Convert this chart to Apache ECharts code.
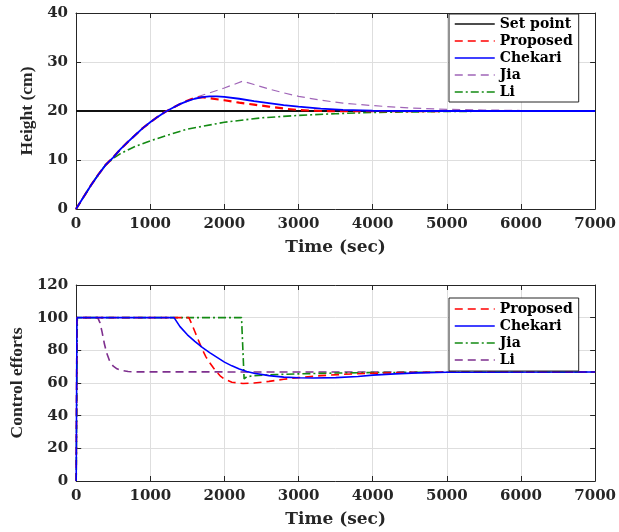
<!DOCTYPE html>
<html>
<head>
<meta charset="utf-8">
<script src="https://cdn.jsdelivr.net/npm/echarts@6/dist/echarts.min.js"></script>
<style>html,body{margin:0;padding:0;background:#fff}#c{width:619px;height:532px}</style>
</head>
<body>
<div id="c"></div>
<script>
// ---------- Data ----------
const xTicks = [0, 1000, 2000, 3000, 4000, 5000, 6000, 7000];

// Top panel: Height (cm)
const setPointT = [0, 7000];
const setPointV = [20, 20];

const propTopT = [0,100,200,300,400,500,600,700,800,900,1000,1100,1200,1300,1400,1500,1600,1700,1800,2000,2200,2400,2600,2800,3000,3300,3600,4000,5000,7000];
const propTopV = [0,2.4,4.8,7.0,9.0,10.5,12.2,13.7,15.1,16.5,17.7,18.8,19.8,20.6,21.4,22.1,22.7,22.8,22.6,22.2,21.7,21.3,20.9,20.5,20.2,20.0,19.95,19.95,20.0,20.0];

const chekTopT = [0,100,200,300,400,500,600,700,800,900,1000,1100,1200,1300,1400,1500,1600,1700,1800,1900,2000,2200,2400,2600,2800,3000,3300,3600,4000,4500,7000];
const chekTopV = [0,2.4,4.8,7.0,9.0,10.5,12.2,13.7,15.1,16.5,17.7,18.8,19.8,20.6,21.4,22.0,22.5,22.85,23.0,23.0,22.9,22.5,22.0,21.6,21.2,20.9,20.5,20.25,20.05,20.0,20.0];

const jiaTopT = [0,100,200,300,400,500,600,700,800,900,1000,1100,1200,1300,1400,1500,1600,1800,2000,2250,2400,2600,2800,3000,3300,3600,4000,4500,5000,5500,6000,7000];
const jiaTopV = [0,2.4,4.8,7.0,9.0,10.5,12.2,13.7,15.1,16.5,17.7,18.8,19.8,20.6,21.4,22.1,22.7,23.7,24.7,26.1,25.4,24.5,23.7,23.0,22.2,21.6,21.1,20.6,20.35,20.2,20.1,20.0];

const liTopT = [0,100,200,300,400,500,600,800,1000,1200,1500,2000,2500,3000,3500,4000,5000,6000,7000];
const liTopV = [0,2.4,4.8,7.0,9.0,10.3,11.3,12.8,13.9,14.9,16.3,17.7,18.6,19.1,19.45,19.7,19.9,20.0,20.0];

// Bottom panel: Control efforts
const propBotT = [0,10,1520,1560,1600,1650,1700,1750,1800,1850,1900,1950,2000,2100,2250,2400,2600,2800,3000,3300,3600,4000,4500,5000,7000];
const propBotV = [0,100,100,96,91.5,86,80.5,76,72.5,69.3,66.5,64,62.3,60.5,59.7,60.0,61.0,62.3,63.3,64.5,65.3,66.0,66.4,66.6,66.7];

const chekBotT = [0,10,1320,1400,1500,1600,1700,1800,1900,2000,2100,2200,2300,2400,2600,2800,3000,3200,3500,3800,4000,4300,4600,5000,7000];
const chekBotV = [0,100,100,94.5,89.5,85.5,81.8,78.6,75.7,72.8,70.5,68.6,67.1,66.0,64.5,63.6,63.2,63.1,63.3,64.0,64.8,65.6,66.2,66.6,66.7];

const jiaBotT = [0,15,2230,2265,2300,2400,2700,3000,3500,4000,5000,7000];
const jiaBotV = [0,100,100,62.5,63.8,64.5,65.2,65.6,66.1,66.4,66.6,66.7];

const liBotT = [0,10,290,320,350,380,410,450,500,550,600,700,800,7000];
const liBotV = [0,100,100,97,91,84,78.5,73.5,70.3,68.7,67.8,67.0,66.8,66.7];

// ---------- Styles ----------
const RED = '#ff0000', BLUE = '#0000ff', GREEN = '#138a13', PURPLE_L = '#a065b8', PURPLE = '#7e2f8e', BLACK = '#111111';
const DASH = [8, 5];
const DASHDOT = [8, 3, 2, 3];
const AX = '#262626';
const tickFont = { fontFamily: 'DejaVu Serif', fontWeight: 'bold', fontSize: 15, color: AX };

function zip(t, v) { return t.map((x, i) => [x, v[i]]); }

function xAxisMain(grid, gap) {
  return {
    type: 'value', gridIndex: grid, min: 0, max: 7000, interval: 1000,
    name: 'Time (sec)', nameLocation: 'middle', nameGap: gap,
    nameTextStyle: { fontFamily: 'DejaVu Serif', fontWeight: 'bold', fontSize: 17, color: AX },
    axisLine: { onZero: false, lineStyle: { color: AX, width: 1 } },
    axisTick: { inside: true, length: 5, lineStyle: { color: AX } },
    axisLabel: Object.assign({ margin: 8, formatter: v => String(v) }, tickFont),
    splitLine: { show: true, lineStyle: { color: '#dedede', width: 1 } }
  };
}
function xAxisTop(grid) {
  return {
    type: 'value', gridIndex: grid, min: 0, max: 7000, interval: 1000, position: 'top',
    axisLine: { onZero: false, lineStyle: { color: AX, width: 1 } },
    axisTick: { inside: true, length: 5, lineStyle: { color: AX } },
    axisLabel: { show: false }, splitLine: { show: false }
  };
}
function yAxisMain(grid, max, interval, name, gap) {
  return {
    type: 'value', gridIndex: grid, min: 0, max: max, interval: interval,
    name: name, nameLocation: 'middle', nameGap: gap, nameRotate: 90,
    nameTextStyle: { fontFamily: 'Liberation Serif', fontWeight: 'bold', fontSize: 17.5, color: AX },
    axisLine: { onZero: false, show: true, lineStyle: { color: AX, width: 1 } },
    axisTick: { show: true, inside: true, length: 5, lineStyle: { color: AX } },
    axisLabel: Object.assign({ margin: 8, formatter: v => String(v) }, tickFont),
    splitLine: { show: true, lineStyle: { color: '#dedede', width: 1 } }
  };
}
function yAxisRight(grid, max, interval) {
  return {
    type: 'value', gridIndex: grid, min: 0, max: max, interval: interval, position: 'right',
    axisLine: { onZero: false, show: true, lineStyle: { color: AX, width: 1 } },
    axisTick: { show: true, inside: true, length: 5, lineStyle: { color: AX } },
    axisLabel: { show: false }, splitLine: { show: false }
  };
}
function line(name, xi, yi, data, color, type, width) {
  return {
    name: name, type: 'line', xAxisIndex: xi, yAxisIndex: yi, data: data,
    symbol: 'none', showSymbol: false, smooth: false, animation: false,
    lineStyle: { color: color, type: type, width: width }, itemStyle: { color: color }
  };
}
function legItem(name, color, type, width) {
  return {
    name: name,
    itemStyle: { color: 'rgba(0,0,0,0)', borderColor: 'rgba(0,0,0,0)', borderWidth: 0, opacity: 0 },
    lineStyle: { color: color, type: type, width: width, opacity: 1 }
  };
}
const legendText = { fontFamily: 'DejaVu Serif', fontWeight: 'bold', fontSize: 14, color: '#000' };

const chart = echarts.init(document.getElementById('c'), null, { renderer: 'canvas' });
chart.setOption({
  animation: false,
  backgroundColor: '#fff',
  grid: [
    { left: 76, top: 13, width: 521, height: 196 },
    { left: 76, top: 285, width: 521, height: 196 }
  ],
  xAxis: [xAxisMain(0, 30), xAxisMain(1, 30), xAxisTop(0), xAxisTop(1)],
  yAxis: [yAxisMain(0, 40, 10, 'Height (cm)', 37), yAxisMain(1, 120, 20, 'Control efforts', 49), yAxisRight(0, 40, 10), yAxisRight(1, 120, 20)],
  legend: [
    {
      left: 449, top: 14, orient: 'vertical', itemWidth: 40, itemHeight: 14, itemGap: 3,
      padding: [3, 6, 3, 5], borderColor: AX, borderWidth: 1, backgroundColor: '#fff',
      textStyle: legendText, selectedMode: false,
      data: [
        legItem('Set point', BLACK, 'solid', 1.5),
        legItem('Proposed', RED, DASH, 1.5),
        legItem('Chekari', BLUE, 'solid', 1.5),
        legItem('Jia', PURPLE_L, DASH, 1.5),
        legItem('Li', GREEN, DASHDOT, 1.5)
      ]
    },
    {
      left: 449, top: 298, orient: 'vertical', itemWidth: 40, itemHeight: 14, itemGap: 3,
      padding: [4, 6, 4, 5], borderColor: AX, borderWidth: 1, backgroundColor: '#fff',
      textStyle: legendText, selectedMode: false,
      data: [
        legItem('Proposed', RED, DASH, 1.5),
        legItem('Chekari', BLUE, 'solid', 1.5),
        legItem('Jia', GREEN, DASHDOT, 1.5),
        legItem('Li', PURPLE, DASH, 1.5)
      ]
    }
  ],
  series: [
    line('Set point', 0, 0, zip(setPointT, setPointV), BLACK, 'solid', 2),
    line('Li', 0, 0, zip(liTopT, liTopV), GREEN, DASHDOT, 1.6),
    line('Jia', 0, 0, zip(jiaTopT, jiaTopV), PURPLE_L, DASH, 1.2),
    line('Proposed', 0, 0, zip(propTopT, propTopV), RED, DASH, 2.2),
    line('Chekari', 0, 0, zip(chekTopT, chekTopV), BLUE, 'solid', 1.8),

    line('Li', 1, 1, zip(liBotT, liBotV), PURPLE, DASH, 1.6),
    line('Jia', 1, 1, zip(jiaBotT, jiaBotV), GREEN, DASHDOT, 1.6),
    line('Proposed', 1, 1, zip(propBotT, propBotV), RED, DASH, 1.6),
    line('Chekari', 1, 1, zip(chekBotT, chekBotV), BLUE, 'solid', 1.6)
  ]
});
</script>
</body>
</html>
